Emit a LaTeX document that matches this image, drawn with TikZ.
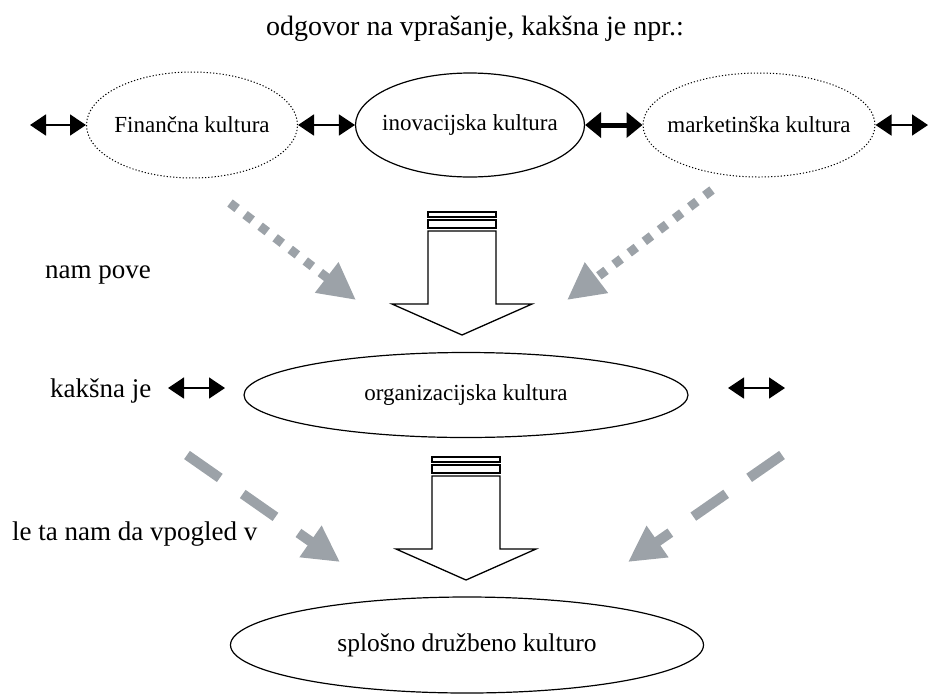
\documentclass[tikz,border=0pt]{standalone}
\usepackage{fontspec}
\setmainfont{Liberation Serif}
\usetikzlibrary{shapes.geometric, arrows.meta, positioning, calc}
\definecolor{flowgrey}{RGB}{156, 162, 168}

\begin{document}
\begin{tikzpicture}[x=1pt, y=-1pt,
  culture/.style={draw, ellipse, line width=1.2pt, inner xsep=-60pt, inner ysep=0pt, font=\fontsize{23}{27}\selectfont},
  subculture/.style={culture, dotted, line width=1pt},
  sidetext/.style={inner sep=0pt, anchor=base west, font=\fontsize{27}{32}\selectfont},
  twoway/.style={{Triangle[length=16pt, width=21pt]}-{Triangle[length=16pt, width=21pt]}, line width=1.5pt},
  dotflow/.style={flowgrey, line width=9pt, dash pattern=on 9pt off 10pt, -{Triangle[length=37pt, width=36pt]}},
  dashflow/.style={flowgrey, line width=10pt, dash pattern=on 40pt off 28pt, -{Triangle[length=36pt, width=36pt]}},
  blockline/.style={draw, line width=1.3pt, line join=miter}]

  \useasboundingbox (0,0) rectangle (928,694);

  \node[inner sep=0pt, anchor=base, font=\fontsize{28}{33}\selectfont] (question) at (475,35) {odgovor na vpra\v{s}anje, kak\v{s}na je npr.:};

  % top row
  \node[subculture, minimum width=211pt, minimum height=106pt] (fin) at (192,125) {Finan\v{c}na kultura};
  \node[culture, minimum width=229pt, minimum height=104pt] (inov) at (470,125) {inovacijska kultura};
  \node[subculture, minimum width=232pt, minimum height=104pt] (mark) at (759,125) {marketin\v{s}ka kultura};

  \coordinate (edgeL) at (30,125);
  \coordinate (edgeR) at (928,125);
  \draw[twoway] (edgeL) -- (fin.west);
  \draw[twoway] (fin.east) -- (inov.west);
  \draw[{Triangle[length=16pt, width=25pt]}-{Triangle[length=16pt, width=25pt]}, line width=5pt] (inov.east) -- (mark.west);
  \draw[twoway] (mark.east) -- (edgeR);

  % side texts
  \node[sidetext] (tells) at (45,278) {nam pove};
  \node[sidetext] (kind) at (50,397) {kak\v{s}na je};
  \node[sidetext] (insight) at (12,540) {le ta nam da vpogled v};

  % middle and bottom
  \node[culture, minimum width=444pt, minimum height=85pt] (org) at (466,395) {organizacijska kultura};
  \node[culture, minimum width=473pt, minimum height=96pt, font=\fontsize{25.5}{30}\selectfont] (society) at (467,645) {splo\v{s}no dru\v{z}beno kulturo};

  \coordinate (kindA) at (168,388);
  \coordinate (kindB) at (225,388);
  \coordinate (orgA) at (728,388);
  \coordinate (orgB) at (785,388);
  \draw[twoway] (kindA) -- (kindB);
  \draw[twoway] (orgA) -- (orgB);

  % grey flows
  \coordinate (finflow) at (230,203);
  \coordinate (finflowend) at (356,300);
  \coordinate (markflow) at (712,190);
  \coordinate (markflowend) at (567,300);
  \draw[dotflow] (finflow) -- (finflowend);
  \draw[dotflow] (markflow) -- (markflowend);

  \coordinate (orgflowL) at (187,455);
  \coordinate (orgflowLend) at (340,562);
  \coordinate (orgflowR) at (782,455);
  \coordinate (orgflowRend) at (628,562);
  \draw[dashflow] (orgflowL) -- (orgflowLend);
  \draw[dashflow] (orgflowR) -- (orgflowRend);

  % hollow block arrows
  \foreach \bx/\by in {462/212, 466/457}{
    \draw[blockline] (\bx-34,\by) rectangle (\bx+34,\by+5);
    \draw[blockline] (\bx-34,\by+8) rectangle (\bx+34,\by+16);
    \draw[blockline] (\bx-34,\by+19) -- (\bx-34,\by+92) -- (\bx-70,\by+92) -- (\bx,\by+123)
      -- (\bx+70,\by+92) -- (\bx+34,\by+92) -- (\bx+34,\by+19) -- cycle;
  }
\end{tikzpicture}
\end{document}
